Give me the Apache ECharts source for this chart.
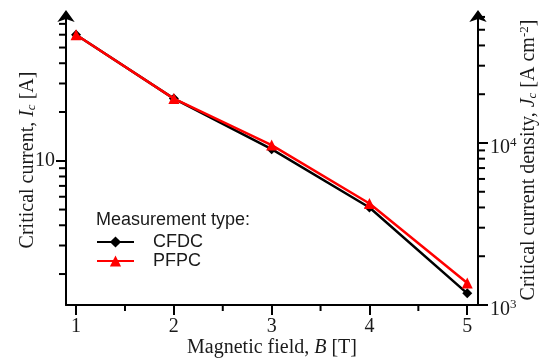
<!DOCTYPE html>
<html>
<head>
<meta charset="utf-8">
<script src="https://cdn.jsdelivr.net/npm/echarts@6/dist/echarts.min.js"></script>
<style>
  html, body { margin: 0; padding: 0; background: #fff; }
  #chart { width: 540px; height: 362px; }
</style>
</head>
<body>
<div id="chart"></div>
<script>
// Magnetic field (T)
const fieldB = [1, 2, 3, 4, 5];
// Critical current Ic (A) for the two measurement types
const cfdc = [60, 24.2, 11.8, 5.15, 1.52];
const pfpc = [60, 24.2, 12.5, 5.45, 1.76];

// Tick values
const xMajorTicks = [1, 2, 3, 4, 5];
const xMinorTicks = [1.5, 2.5, 3.5, 4.5];
const leftMajorTicks = [10];
const leftMinorTicks = [2, 3, 4, 5, 6, 7, 8, 9, 20, 30, 40, 50, 60, 70];
const rightMajorTicks = [1000, 10000];
const rightMinorTicks = [2000, 3000, 4000, 5000, 6000, 7000, 8000, 9000,
                         20000, 30000, 40000, 50000, 60000];
const rightTickLabels = { 1000: '3', 10000: '4' };

// Axis extents (Jc = Ic / conductor cross-section)
const xMin = 0.897, xMax = 5.11;
const icMin = 1.288, icMax = 79.4;
const jcMin = 1000, jcMax = 61660;

const SERIF = '"Liberation Serif", "Times New Roman", serif';
const SANS = '"Liberation Sans", Arial, sans-serif';
const INK = '#1a1a1a';

const lineAxis = {
  show: true,
  lineStyle: { color: '#000', width: 2 }
};
const tickLine = { color: '#000', width: 2 };

// Minor tick marks drawn outside an axis line.
// side: 'left' | 'right' | 'bottom'; the tick position comes from the axis scale.
function minorTicks(values, side, yAxisIndex, len) {
  return {
    type: 'custom',
    xAxisIndex: 0,
    yAxisIndex: yAxisIndex,
    clip: false,
    silent: true,
    z: 5,
    data: values.map(v => [v]),
    renderItem: (params, api) => {
      const v = api.value(0);
      let p, shape;
      if (side === 'bottom') {
        p = api.coord([v, icMin]);
        shape = { x1: p[0], y1: p[1], x2: p[0], y2: p[1] + len };
      } else if (side === 'left') {
        p = api.coord([xMin, v]);
        shape = { x1: p[0] - len, y1: p[1], x2: p[0], y2: p[1] };
      } else {
        p = api.coord([xMax, v]);
        shape = { x1: p[0], y1: p[1], x2: p[0] + len, y2: p[1] };
      }
      return { type: 'line', shape: shape, style: { stroke: '#000', lineWidth: 2 } };
    }
  };
}

const chart = echarts.init(document.getElementById('chart'));

chart.setOption({
  animation: false,
  backgroundColor: '#fff',
  grid: { left: 66, right: 62, top: 15, bottom: 57, containLabel: false, outerBoundsMode: 'none' },
  graphic: [{
    type: 'text',
    x: 96, y: 220,
    style: {
      text: 'Measurement type:',
      font: '18px ' + SANS,
      fill: INK,
      verticalAlign: 'middle'
    }
  }],
  legend: {
    orient: 'vertical',
    left: 96, top: 233, padding: 0,
    itemWidth: 37, itemHeight: 14, itemGap: 1,
    textStyle: { fontFamily: SANS, fontSize: 18, color: INK, padding: [0, 0, 0, 14] },
    data: ['CFDC', 'PFPC']
  },
  xAxis: [{
    type: 'value', min: xMin, max: xMax, position: 'bottom',
    name: '{n|Magnetic field, }{i|B}{n| [T]}',
    nameLocation: 'middle', nameGap: 33, nameMoveOverlap: false,
    nameTextStyle: {
      rich: {
        n: { fontFamily: SERIF, fontSize: 20, color: INK },
        i: { fontFamily: SERIF, fontSize: 20, color: INK, fontStyle: 'italic' }
      }
    },
    axisLine: Object.assign({ onZero: false }, lineAxis),
    axisTick: { show: true, interval: 0, length: 10, customValues: xMajorTicks, lineStyle: tickLine },
    axisLabel: { interval: 0, customValues: xMajorTicks, margin: 12, fontFamily: SERIF, fontSize: 20, color: INK },
    splitLine: { show: false }
  }],
  yAxis: [{
    type: 'log', logBase: 10, min: icMin, max: icMax, position: 'left',
    name: '{n|Critical current, }{i|I}{sub|c}{n| [A]}',
    nameLocation: 'middle', nameGap: 28, nameMoveOverlap: false,
    nameTextStyle: {
      rich: {
        n: { fontFamily: SERIF, fontSize: 20, color: INK },
        i: { fontFamily: SERIF, fontSize: 20, color: INK, fontStyle: 'italic' },
        sub: { fontFamily: SERIF, fontSize: 13, color: INK, fontStyle: 'italic', padding: [8, 0, 0, 0] }
      }
    },
    axisLine: Object.assign({ symbol: ['none', 'arrow'], symbolSize: [13, 12], symbolOffset: [0, 5] }, lineAxis),
    axisTick: { show: true, interval: 0, length: 10, customValues: leftMajorTicks, lineStyle: tickLine },
    axisLabel: { interval: 0, customValues: leftMajorTicks, margin: 11, fontFamily: SERIF, fontSize: 20, color: INK },
    splitLine: { show: false }
  }, {
    type: 'log', logBase: 10, min: jcMin, max: jcMax, position: 'right',
    name: '{n|Critical current density, }{i|J}{sub|c}{n| [A cm}{sup|-2}{n|]}',
    nameLocation: 'middle', nameGap: 40, nameRotate: 90, nameMoveOverlap: false,
    nameTextStyle: {
      rich: {
        n: { fontFamily: SERIF, fontSize: 20, color: INK },
        i: { fontFamily: SERIF, fontSize: 20, color: INK, fontStyle: 'italic' },
        sub: { fontFamily: SERIF, fontSize: 13, color: INK, fontStyle: 'italic', padding: [8, 0, 0, 0] },
        sup: { fontFamily: SERIF, fontSize: 13, color: INK, padding: [0, 0, 9, 0] }
      }
    },
    axisLine: Object.assign({ symbol: ['none', 'arrow'], symbolSize: [13, 12], symbolOffset: [0, 5] }, lineAxis),
    axisTick: { show: true, interval: 0, length: 10, customValues: rightMajorTicks, lineStyle: tickLine },
    axisLabel: {
      interval: 0, customValues: rightMajorTicks, margin: 12,
      padding: [10, 0, 0, 0],
      formatter: v => '{n|10}{s|' + rightTickLabels[Math.round(v)] + '}',
      rich: {
        n: { fontFamily: SERIF, fontSize: 20, color: INK },
        s: { fontFamily: SERIF, fontSize: 13, color: INK, padding: [0, 0, 10, 0] }
      }
    },
    splitLine: { show: false }
  }],
  series: [
    minorTicks(xMinorTicks, 'bottom', 0, 6),
    minorTicks(leftMinorTicks, 'left', 0, 7),
    minorTicks(rightMinorTicks, 'right', 1, 7),
    {
      name: 'CFDC', type: 'line',
      xAxisIndex: 0, yAxisIndex: 0,
      data: fieldB.map((b, i) => [b, cfdc[i]]),
      symbol: 'diamond', symbolSize: 10,
      lineStyle: { color: '#000', width: 2.5 },
      itemStyle: { color: '#000' },
      z: 3
    }, {
      name: 'PFPC', type: 'line',
      xAxisIndex: 0, yAxisIndex: 0,
      data: fieldB.map((b, i) => [b, pfpc[i]]),
      symbol: 'triangle', symbolSize: 11,
      lineStyle: { color: '#f00', width: 2.5 },
      itemStyle: { color: '#f00' },
      z: 4
    }
  ]
});
</script>
</body>
</html>
